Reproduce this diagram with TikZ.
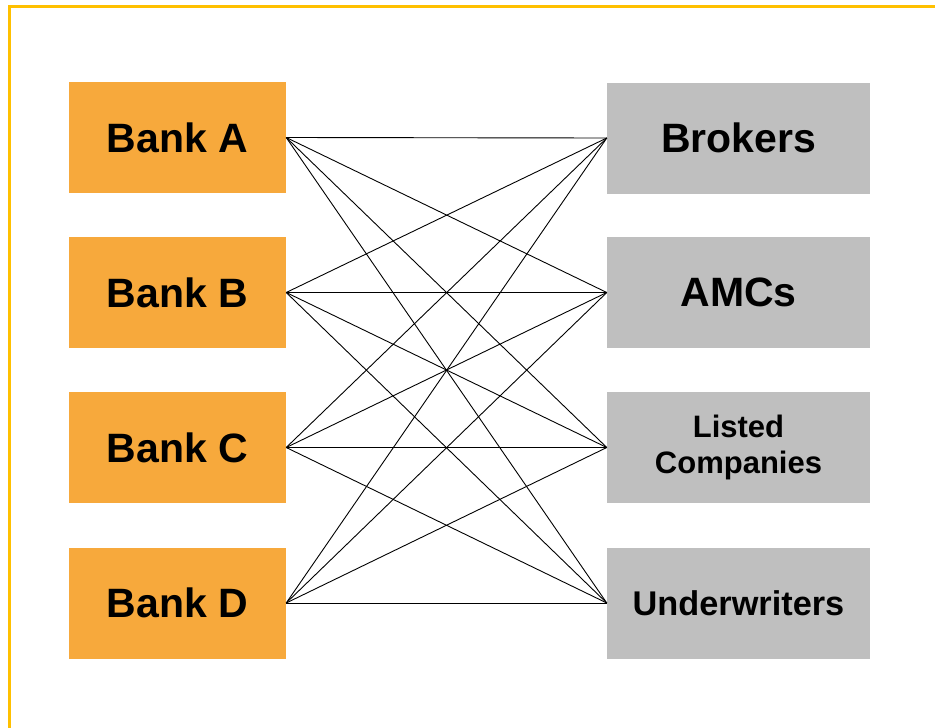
\documentclass[tikz,border=0pt]{standalone}
\usepackage{fontspec}
\setmainfont{Liberation Sans}
\usetikzlibrary{positioning}
\definecolor{bankorange}{HTML}{F7A93C}
\definecolor{usergray}{HTML}{BFBFBF}
\definecolor{frameyellow}{HTML}{FFC000}
\begin{document}
\begin{tikzpicture}[x=1pt,y=-1pt,
    bank/.style={rectangle,fill=bankorange,minimum width=217pt,minimum height=111pt,inner sep=0pt,font=\bfseries\fontsize{41}{48}\selectfont},
    user/.style={rectangle,fill=usergray,minimum width=263pt,minimum height=111pt,inner sep=0pt,align=center,font=\bfseries\fontsize{41}{48}\selectfont},
    link/.style={black,line width=0.9pt}]
            \useasboundingbox (0,0) rectangle (935,728);
            \draw [frameyellow, line width=3pt] (9,728) -- (9,6) -- (935,6);

            \node [bank] (bankA) at (177.5,137.5) {Bank A};
            \node [bank] (bankB) at (177.5,292.5) {Bank B};
            \node [bank] (bankC) at (177.5,447.5) {Bank C};
            \node [bank] (bankD) at (177.5,603) {Bank D};

            \node [user] (brokers) at (738.5,138) {Brokers};
            \node [user] (amcs) at (738.5,292.5) {AMCs};
            \node [user,font=\bfseries\fontsize{31}{36}\selectfont] (listed) at (738.5,447.5) {Listed\\Companies};
            \node [user,font=\bfseries\fontsize{34.3}{40}\selectfont] (under) at (738.5,603) {Underwriters};

            % every bank talks to every counterparty
            \foreach \b in {bankA,bankB,bankC,bankD}
                \foreach \u in {brokers,amcs,listed,under}
                    \draw [link] (\b.east) -- (\u.west);
        \end{tikzpicture}
\end{document}
